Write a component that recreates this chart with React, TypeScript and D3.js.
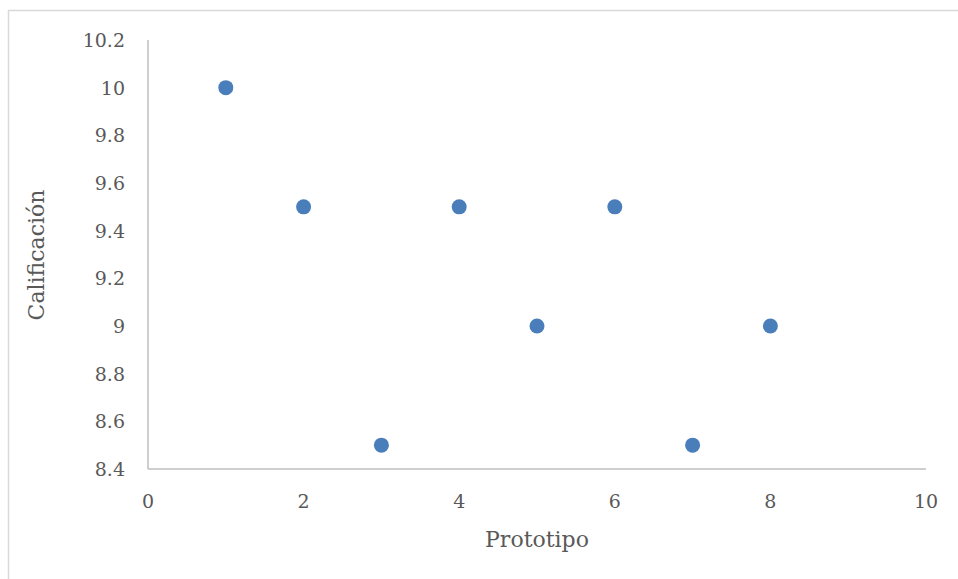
import React from "react";
import * as d3 from "d3";

const prototipos = [1, 2, 3, 4, 5, 6, 7, 8];
const calificaciones = [10, 9.5, 8.5, 9.5, 9, 9.5, 8.5, 9];
const xTicks = [0, 2, 4, 6, 8, 10];
const yTicks = [8.4, 8.6, 8.8, 9, 9.2, 9.4, 9.6, 9.8, 10, 10.2];

const W = 958;
const H = 579;
const FONT = "'DejaVu Serif', 'Liberation Serif', serif";
const TEXT = "#595959";

export default function App() {
  const x = d3.scaleLinear().domain([0, 10]).range([148, 926]);
  const y = d3.scaleLinear().domain([8.4, 10.2]).range([469, 40]);
  const fmt = (v: number) => String(+v.toFixed(1));
  return (
    <svg width={W} height={H} style={{ position: "absolute", left: 0, top: 0 }}>
      <rect x={0} y={0} width={W} height={H} fill="#fff" />
      <path d={`M8.5,${H} V10.5 H${W}`} fill="none" stroke="#d9d9d9" strokeWidth={1.5} />
      <line x1={x(0)} x2={x(0)} y1={y(10.2)} y2={y(8.4)} stroke="#bfbfbf" strokeWidth={1.5} />
      <line x1={x(0)} x2={x(10)} y1={y(8.4)} y2={y(8.4)} stroke="#bfbfbf" strokeWidth={1.5} />
      {yTicks.map((t) => (
        <text key={"y" + t} x={125} y={y(t) + 7} textAnchor="end" fontFamily={FONT} fontSize={19} fill={TEXT}>
          {fmt(t)}
        </text>
      ))}
      {xTicks.map((t) => (
        <text key={"x" + t} x={x(t)} y={508} textAnchor="middle" fontFamily={FONT} fontSize={19} fill={TEXT}>
          {fmt(t)}
        </text>
      ))}
      <text x={537} y={547} textAnchor="middle" fontFamily={FONT} fontSize={22} fill={TEXT}>
        Prototipo
      </text>
      <text transform={`translate(44,255) rotate(-90)`} textAnchor="middle" fontFamily={FONT} fontSize={22} fill={TEXT}>
        Calificación
      </text>
      {prototipos.map((p, i) => (
        <circle key={p} cx={x(p)} cy={y(calificaciones[i])} r={7.5} fill="#4a7ebb" />
      ))}
    </svg>
  );
}
